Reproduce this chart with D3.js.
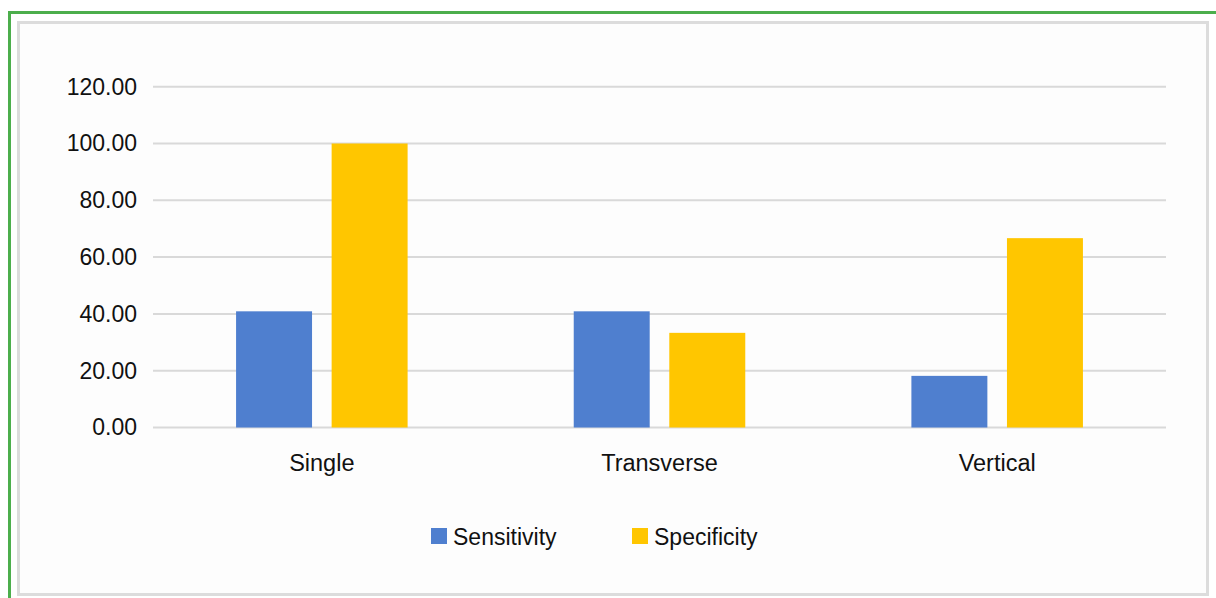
<!DOCTYPE html>
<html>
<head>
<meta charset="utf-8">
<script src="https://cdn.jsdelivr.net/npm/d3@7"></script>
<style>
  html, body { margin: 0; padding: 0; background: #ffffff; }
  svg { display: block; }
  text { font-family: "Liberation Sans", Arial, Helvetica, sans-serif; fill: #111; }
</style>
</head>
<body>
<svg id="chart" width="1216" height="598"></svg>
<script>
// Diagnostic performance by group
const categories = ["Single", "Transverse", "Vertical"];
const seriesNames = ["Sensitivity", "Specificity"];
const sensitivity = [40.91, 40.91, 18.18];
const specificity = [100.00, 33.33, 66.67];
const yTicks = [0, 20, 40, 60, 80, 100, 120];
const colors = ["#4f7fcf", "#ffc600"];

const svg = d3.select("#chart");

// outer green frame (runs off the right and bottom edges)
svg.append("rect")
  .attr("x", 9.5).attr("y", 12.5)
  .attr("width", 1220).attr("height", 600)
  .attr("fill", "#ffffff")
  .attr("stroke", "#4cae4c").attr("stroke-width", 3);

// chart area panel
svg.append("rect")
  .attr("x", 18.5).attr("y", 22.5)
  .attr("width", 1189).attr("height", 572)
  .attr("fill", "#fdfdfd")
  .attr("stroke", "#dcdcdc").attr("stroke-width", 3);

const plot = { left: 153, right: 1166, top: 86.7, bottom: 427.5 };

const x = d3.scaleBand().domain(categories).range([plot.left, plot.right]).padding(0);
const y = d3.scaleLinear().domain([0, 120]).range([plot.bottom, plot.top]);

// horizontal gridlines
svg.append("g").selectAll("line").data(yTicks).join("line")
  .attr("x1", plot.left).attr("x2", plot.right)
  .attr("y1", d => y(d)).attr("y2", d => y(d))
  .attr("stroke", "#d9d9d9").attr("stroke-width", 2);

// y axis labels
const yAxis = d3.axisLeft(y).tickValues(yTicks).tickFormat(d3.format(".2f")).tickSize(0).tickPadding(16);
const yg = svg.append("g").attr("transform", `translate(${plot.left},0)`).call(yAxis);
yg.select(".domain").remove();
yg.selectAll("text").style("font-size", "23px").style("font-family", '"Liberation Sans", Arial, sans-serif').attr("fill", "#111");

// grouped bars
const bw = x.bandwidth();
const barW = bw * 0.225;
const innerGap = bw * 0.058;
const groupW = barW * 2 + innerGap;
const rows = categories.map((c, i) => ({ cat: c, values: [sensitivity[i], specificity[i]] }));

const groups = svg.append("g").selectAll("g").data(rows).join("g")
  .attr("transform", d => `translate(${x(d.cat) + (bw - groupW) / 2},0)`);

groups.selectAll("rect").data(d => d.values.map((v, k) => ({ v, k }))).join("rect")
  .attr("x", d => d.k * (barW + innerGap))
  .attr("width", barW)
  .attr("y", d => y(d.v))
  .attr("height", d => y(0) - y(d.v))
  .attr("fill", d => colors[d.k]);

// category labels
svg.append("g").selectAll("text").data(categories).join("text")
  .attr("x", d => x(d) + bw / 2)
  .attr("y", 471)
  .attr("text-anchor", "middle")
  .style("font-size", "23.5px")
  .text(d => d);

// legend
const legendX = [431, 632];
const legend = svg.append("g").selectAll("g").data(seriesNames).join("g")
  .attr("transform", (d, i) => `translate(${legendX[i]},528)`);
legend.append("rect").attr("width", 16).attr("height", 16).attr("fill", (d, i) => colors[i]);
legend.append("text").attr("x", 22).attr("y", 17).style("font-size", "23px").text(d => d);
</script>
</body>
</html>
